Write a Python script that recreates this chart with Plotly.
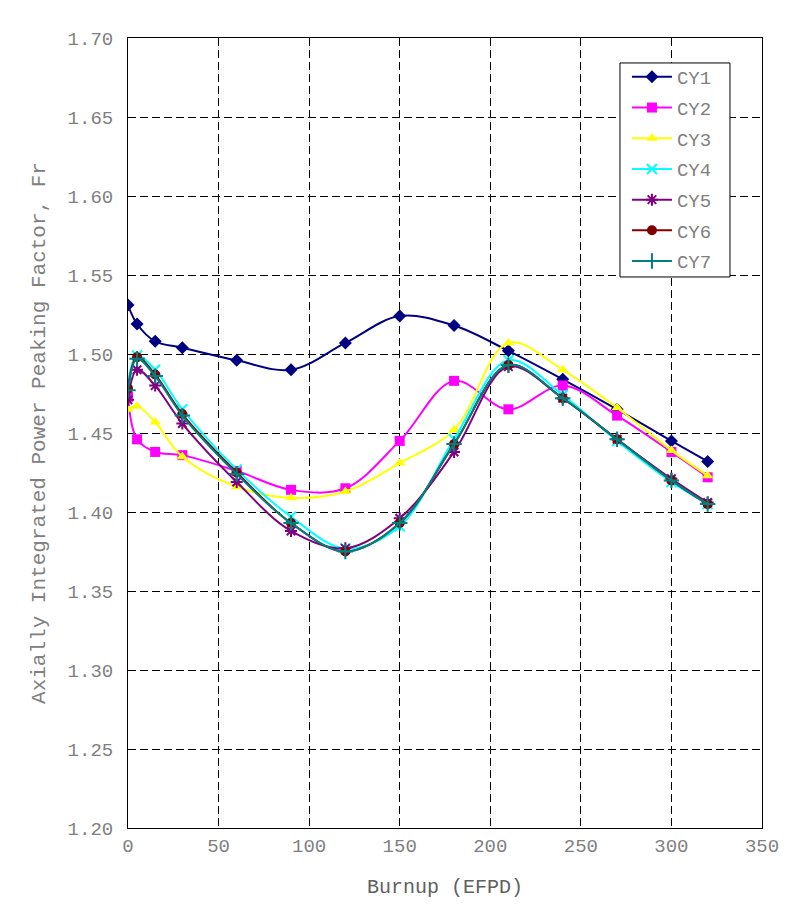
import plotly.graph_objects as go

burnup = [0, 5, 15, 30, 60, 90, 120, 150, 180, 210, 240, 270, 300, 320]
cy1 = [1.531, 1.519, 1.508, 1.504, 1.496, 1.490, 1.507, 1.524, 1.518, 1.502, 1.484, 1.465, 1.445, 1.432]
cy2 = [1.473, 1.446, 1.438, 1.436, 1.426, 1.414, 1.415, 1.445, 1.483, 1.465, 1.480, 1.461, 1.438, 1.422]
cy3 = [1.465, 1.467, 1.457, 1.435, 1.416, 1.409, 1.413, 1.431, 1.452, 1.507, 1.490, 1.466, 1.439, 1.423]
cy4 = [1.482, 1.499, 1.490, 1.465, 1.427, 1.397, 1.377, 1.391, 1.446, 1.496, 1.474, 1.445, 1.419, 1.405]
cy5 = [1.471, 1.490, 1.480, 1.456, 1.419, 1.388, 1.377, 1.396, 1.438, 1.492, 1.472, 1.446, 1.421, 1.406]
cy6 = [1.478, 1.498, 1.487, 1.462, 1.425, 1.393, 1.375, 1.393, 1.443, 1.493, 1.472, 1.446, 1.420, 1.405]
cy7 = [1.477, 1.497, 1.486, 1.461, 1.424, 1.393, 1.375, 1.393, 1.443, 1.493, 1.472, 1.446, 1.420, 1.405]

series = [
    ("CY1", cy1, "#000080", "diamond", 10),
    ("CY2", cy2, "#FF00FF", "square", 10),
    ("CY3", cy3, "#FFFF00", "triangle-up", 10),
    ("CY4", cy4, "#00FFFF", "x-thin-open", 10),
    ("CY5", cy5, "#800080", "asterisk-open", 10),
    ("CY6", cy6, "#800000", "circle", 10),
    ("CY7", cy7, "#008080", "cross-thin-open", 11),
]

FONT = "Liberation Mono, Courier New, monospace"
GRAY = "#808080"

fig = go.Figure()
for name, vals, color, sym, size in series:
    open_sym = sym.endswith("open")
    fig.add_trace(go.Scatter(
        x=burnup, y=vals, name=name, mode="lines+markers",
        legendgroup=name,
        line=dict(color=color, width=2, shape="spline", smoothing=1),
        marker=dict(symbol=sym, size=size, color=color,
                    line=dict(color=color, width=2 if open_sym else 0)),
    ))

axis_common = dict(
    showline=True, mirror=True, linecolor="black", linewidth=1,
    showgrid=True, gridcolor="black", gridwidth=1, griddash="8px,4px",
    zeroline=False, tickcolor="rgba(0,0,0,0)",
    tickfont=dict(family=FONT, size=19, color=GRAY),
)

# legend frame (white box with black border) behind the legend entries
fig.add_shape(type="rect", xref="paper", yref="paper",
              x0=0.776, x1=0.9495, y0=0.6975, y1=0.9684,
              fillcolor="white", line=dict(color="black", width=1), layer="above")

fig.update_layout(
    width=787, height=916,
    margin=dict(l=120, r=33, t=30, b=96),
    paper_bgcolor="white", plot_bgcolor="white",
    font=dict(family=FONT, size=19, color=GRAY),
    xaxis=dict(range=[0, 350], dtick=50, tick0=0, ticks="",
               title=dict(text="Burnup (EFPD)", font=dict(family=FONT, size=20, color="#606060"), standoff=22),
               **axis_common),
    yaxis=dict(range=[1.2, 1.7], dtick=0.05, tick0=1.2, tickformat=".2f", ticks="outside", ticklen=10,
               title=dict(text="Axially Integrated Power Peaking Factor, Fr",
                          font=dict(family=FONT, size=21, color=GRAY), standoff=16),
               **axis_common),
    legend=dict(x=0.787, y=0.9747, xanchor="left", yanchor="top",
                bgcolor="rgba(0,0,0,0)", borderwidth=0,
                font=dict(family=FONT, size=19, color=GRAY),
                traceorder="grouped", tracegroupgap=3, itemwidth=40),
)

fig.write_html("out.html")
